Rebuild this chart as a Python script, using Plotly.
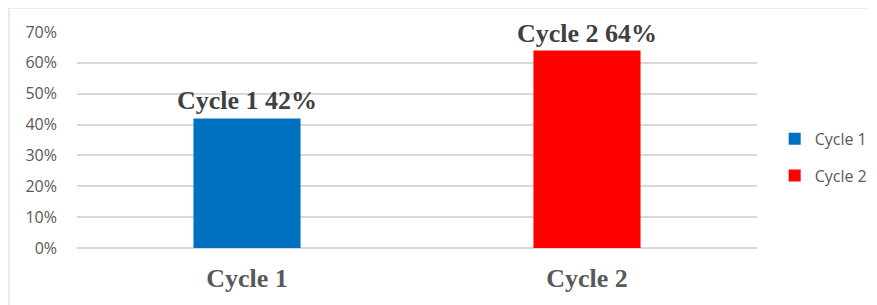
import plotly.graph_objects as go

categories = ["Cycle 1", "Cycle 2"]
values = [0.42, 0.64]
series_names = ["Cycle 1", "Cycle 2"]
bar_labels = ["Cycle 1 42%", "Cycle 2 64%"]
colors = ["#0070C0", "#FF0000"]
y_ticks = [0, 0.1, 0.2, 0.3, 0.4, 0.5, 0.6, 0.7]
y_tick_labels = ["0%", "10%", "20%", "30%", "40%", "50%", "60%", "70%"]

fig = go.Figure()
for cat, val, name, lab, col in zip(categories, values, series_names, bar_labels, colors):
    fig.add_trace(go.Bar(
        x=[cat], y=[val], name=name, legendgroup=name, marker_color=col, marker_line_width=0,
        width=0.315, text=[lab], textposition="outside", cliponaxis=False,
        constraintext="none",
        textfont=dict(family="Liberation Serif", size=26, color="#404040", weight="bold"),
    ))

# page body has an 8px margin, so the figure is sized 8px smaller than the window
fig.update_layout(
    width=869, height=297,
    margin=dict(l=69, r=120, t=24, b=57, autoexpand=False),
    paper_bgcolor="white", plot_bgcolor="white",
    barmode="overlay",
    showlegend=True,
    legend=dict(x=1.026, y=0.42, xanchor="left", yanchor="middle",
                font=dict(family="Open Sans", size=16, color="#595959"),
                itemsizing="constant", tracegroupgap=13),
    xaxis=dict(categoryorder="array", categoryarray=categories,
               tickfont=dict(family="Liberation Serif", size=26, color="#595959", weight="bold"),
               ticklabelstandoff=12, showgrid=False, showline=False, zeroline=False),
    yaxis=dict(range=[0, 0.7], tickvals=y_ticks, ticktext=y_tick_labels,
               tickfont=dict(family="Open Sans", size=16, color="#595959"),
               showgrid=True, gridcolor="#D9D9D9", gridwidth=1.5,
               zeroline=True, zerolinecolor="#D9D9D9", zerolinewidth=1.5,
               ticklabelstandoff=19, showline=False),
    shapes=[dict(type="rect", xref="paper", yref="paper",
                 x0=-68/680, x1=1 + 125/680, y0=-70/216, y1=1 + 24/216,
                 line=dict(color="#D9D9D9", width=1), layer="below")],
)

fig.write_html("out.html")
